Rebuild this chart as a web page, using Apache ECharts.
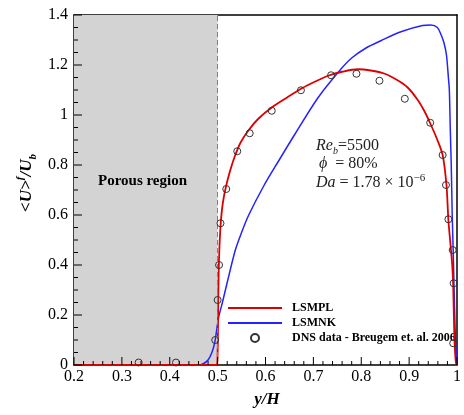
<!DOCTYPE html>
<html>
<head>
<meta charset="utf-8">
<script src="https://cdn.jsdelivr.net/npm/echarts@6/dist/echarts.min.js"></script>
<style>
  html, body { margin: 0; padding: 0; background: #fff; }
  #chart { width: 464px; height: 415px; }
</style>
</head>
<body>
<div id="chart"></div>
<script>
// Axis ranges and steps
const xRange = [0.2, 1.0];
const xStep = 0.1;
const xMinorStep = 0.02;
const yRange = [0, 1.4];
const yStep = 0.2;
const yMinorStep = 0.05;
const porousRange = [0.2, 0.5];

// LSMPL model profile: [y/H, <U>^f/U_b]
const lsmpl = [
  [0.2, 0], [0.498, 0], [0.500, 0.05], [0.501, 0.2], [0.502, 0.35], [0.504, 0.48],
  [0.507, 0.58], [0.511, 0.65], [0.517, 0.71], [0.525, 0.77], [0.535, 0.83],
  [0.548, 0.89], [0.565, 0.94], [0.585, 0.985], [0.613, 1.03], [0.645, 1.07],
  [0.676, 1.107], [0.705, 1.135], [0.731, 1.157], [0.76, 1.173], [0.793, 1.183],
  [0.82, 1.178], [0.849, 1.165], [0.875, 1.14], [0.897, 1.11], [0.918, 1.06],
  [0.932, 1.015], [0.944, 0.967], [0.958, 0.905], [0.970, 0.84], [0.978, 0.72],
  [0.982, 0.58], [0.987, 0.47], [0.990, 0.40], [0.992, 0.32], [0.994, 0.15],
  [0.996, 0.05], [0.9985, 0], [1.0, 0]
];

// LSMNK model profile
const lsmnk = [
  [0.2, 0], [0.46, 0], [0.47, 0.005], [0.48, 0.02], [0.488, 0.05], [0.494, 0.09],
  [0.498, 0.14], [0.502, 0.19], [0.51, 0.25], [0.52, 0.33], [0.537, 0.46],
  [0.55, 0.53], [0.565, 0.60], [0.596, 0.715], [0.627, 0.815], [0.662, 0.925],
  [0.71, 1.07], [0.755, 1.178], [0.78, 1.228], [0.81, 1.268], [0.842, 1.298],
  [0.883, 1.333], [0.928, 1.358], [0.945, 1.36], [0.959, 1.35], [0.967, 1.32],
  [0.973, 1.287], [0.978, 1.24], [0.982, 1.15], [0.984, 1.10], [0.986, 0.94],
  [0.988, 0.80], [0.990, 0.60], [0.992, 0.46], [0.994, 0.30], [0.996, 0.15],
  [0.998, 0.05], [1.0, 0]
];

// DNS reference data (Breugem et al. 2006)
const dns = [
  [0.335, 0.01], [0.413, 0.01], [0.495, 0.10], [0.500, 0.26], [0.503, 0.40],
  [0.506, 0.567], [0.518, 0.704], [0.541, 0.855], [0.567, 0.927], [0.613, 1.017],
  [0.674, 1.099], [0.737, 1.159], [0.790, 1.165], [0.838, 1.137], [0.891, 1.065],
  [0.944, 0.969], [0.970, 0.84], [0.977, 0.72], [0.982, 0.583], [0.991, 0.46],
  [0.993, 0.327], [0.992, 0.087]
];

const names = ['LSMPL', 'LSMNK', 'DNS data - Breugem et. al. 2006'];

const serif = "'Liberation Serif', 'Times New Roman', serif";
const chart = echarts.init(document.getElementById('chart'), null, { renderer: 'canvas' });

const fmt = v => String(+v.toFixed(1));
const frameLine = { show: true, onZero: false, lineStyle: { color: '#000', width: 1.5 } };

// Inward-pointing tick marks: [x, y, length in px, 0 = vertical / 1 = horizontal]
const MAJOR_LEN = 8, MINOR_LEN = 4;
function tickList(range, minorStep, majorStep) {
  const out = [];
  const n = Math.round((range[1] - range[0]) / minorStep);
  for (let i = 0; i <= n; i++) {
    const v = +(range[0] + i * minorStep).toFixed(4);
    const r = v / majorStep;
    out.push([v, Math.abs(r - Math.round(r)) < 1e-6 ? MAJOR_LEN : MINOR_LEN]);
  }
  return out;
}
const tickMarks = [
  ...tickList(xRange, xMinorStep, xStep).map(([v, len]) => [v, yRange[0], len, 0]),
  ...tickList(yRange, yMinorStep, yStep).map(([v, len]) => [xRange[0], v, len, 1])
];

// axis: frame line and tick labels
const mainAxis = (range, step, margin, position) => ({
  type: 'value', min: range[0], max: range[1], interval: step, position: position,
  axisLine: frameLine,
  axisTick: { show: false },
  splitLine: { show: false },
  axisLabel: { color: '#000', fontFamily: serif, fontSize: 16, margin: margin, formatter: fmt }
});

// opposite side of the frame: plain line
const frameAxis = (range, position) => ({
  type: 'value', min: range[0], max: range[1], position: position,
  axisLine: frameLine, axisTick: { show: false }, axisLabel: { show: false }, splitLine: { show: false }
});

const lineIcon = 'path://M0,0 H54 V2 H0 Z';

chart.setOption({
  animation: false,
  backgroundColor: '#fff',
  grid: { left: 74, right: 5, top: 15, bottom: 50 },
  xAxis: [mainAxis(xRange, xStep, 4, 'bottom'), frameAxis(xRange, 'top')],
  yAxis: [mainAxis(yRange, yStep, 6, 'left'), frameAxis(yRange, 'right')],
  legend: {
    data: [
      { name: names[0], icon: lineIcon },
      { name: names[1], icon: lineIcon },
      { name: names[2] }
    ],
    orient: 'vertical',
    left: 223, top: 297,
    itemWidth: 54, itemHeight: 8, itemGap: 3,
    textStyle: { color: '#000', fontFamily: serif, fontWeight: 'bold', fontSize: 12, lineHeight: 12, padding: [0, 0, 0, 5] },
    selectedMode: false
  },
  series: [
    {
      // porous layer shading and interface line
      type: 'line', data: [], z: 1, silent: true,
      markArea: {
        silent: true,
        itemStyle: { color: '#d3d3d3' },
        data: [[{ xAxis: porousRange[0] }, { xAxis: porousRange[1] }]]
      },
      markLine: {
        silent: true, symbol: 'none', label: { show: false },
        lineStyle: { color: '#808080', width: 1, type: [5, 3] },
        data: [{ xAxis: porousRange[1] }]
      }
    },
    {
      name: names[1], type: 'line', data: lsmnk, symbol: 'none', z: 3,
      smooth: 0.3,
      lineStyle: { color: '#2323ff', width: 1.5 }, itemStyle: { color: '#2323ff' }
    },
    {
      name: names[0], type: 'line', data: lsmpl, symbol: 'none', z: 4,
      smooth: 0.3,
      lineStyle: { color: '#dd0000', width: 1.8 }, itemStyle: { color: '#dd0000' }
    },
    {
      name: names[2], type: 'scatter', data: dns, symbol: 'circle', symbolSize: 7, z: 5,
      itemStyle: { color: 'transparent', borderColor: '#333', borderWidth: 1, opacity: 1 }
    },
    {
      // tick marks on the bottom and left axes, placed through the axis scales
      type: 'custom', data: tickMarks, z: 6, silent: true, clip: false,
      encode: { x: 0, y: 1 },
      renderItem: function (params, api) {
        const p = api.coord([api.value(0), api.value(1)]);
        const len = api.value(2);
        const horiz = api.value(3) === 1;
        return {
          type: 'line',
          shape: horiz
            ? { x1: p[0], y1: p[1], x2: p[0] + len, y2: p[1] }
            : { x1: p[0], y1: p[1], x2: p[0], y2: p[1] - len },
          style: { stroke: '#000', lineWidth: 1 }
        };
      }
    }
  ],
  graphic: [
    {
      type: 'text', left: 98, top: 174, z: 20,
      style: { text: 'Porous region', font: "bold 15px " + serif, fill: '#000' }
    },
    {
      type: 'text', x: 316, y: 146, z: 20,
      style: {
        text: '{i|Re}{s|b}{n|=5500}', verticalAlign: 'middle', fill: '#222',
        rich: {
          i: { fontFamily: serif, fontStyle: 'italic', fontSize: 16, lineHeight: 20 },
          s: { fontFamily: serif, fontStyle: 'italic', fontSize: 10, verticalAlign: 'bottom', lineHeight: 10 },
          n: { fontFamily: serif, fontSize: 16, lineHeight: 20 }
        }
      }
    },
    {
      type: 'text', x: 319, y: 164, z: 20,
      style: {
        text: '{i|\u03d5}{n|  = 80%}', verticalAlign: 'middle', fill: '#222',
        rich: {
          i: { fontFamily: serif, fontStyle: 'italic', fontSize: 16, lineHeight: 20 },
          n: { fontFamily: serif, fontSize: 16, lineHeight: 20 }
        }
      }
    },
    {
      type: 'text', x: 316, y: 183, z: 20,
      style: {
        text: '{i|Da}{n| = 1.78 \u00d7 10}{p|\u22126}', verticalAlign: 'middle', fill: '#222',
        rich: {
          i: { fontFamily: serif, fontStyle: 'italic', fontSize: 16, lineHeight: 20 },
          n: { fontFamily: serif, fontSize: 16, lineHeight: 20 },
          p: { fontFamily: serif, fontSize: 11, verticalAlign: 'top', lineHeight: 11 }
        }
      }
    },
    {
      type: 'text', x: 27, y: 183, rotation: Math.PI / 2, z: 20,
      style: {
        text: '{u|<U>}{p|f}{u|/U}{s|b}', align: 'center', verticalAlign: 'middle', fill: '#000',
        rich: {
          u: { fontFamily: serif, fontStyle: 'italic', fontWeight: 'bold', fontSize: 17, lineHeight: 24 },
          p: { fontFamily: serif, fontStyle: 'italic', fontWeight: 'bold', fontSize: 11, verticalAlign: 'top', lineHeight: 11 },
          s: { fontFamily: serif, fontStyle: 'italic', fontWeight: 'bold', fontSize: 11, verticalAlign: 'bottom', lineHeight: 11 }
        }
      }
    },
    {
      type: 'text', x: 267, y: 400, z: 20,
      style: {
        text: 'y/H', align: 'center', verticalAlign: 'middle', fill: '#000',
        font: "italic bold 17px " + serif
      }
    }
  ]
});
</script>
</body>
</html>
